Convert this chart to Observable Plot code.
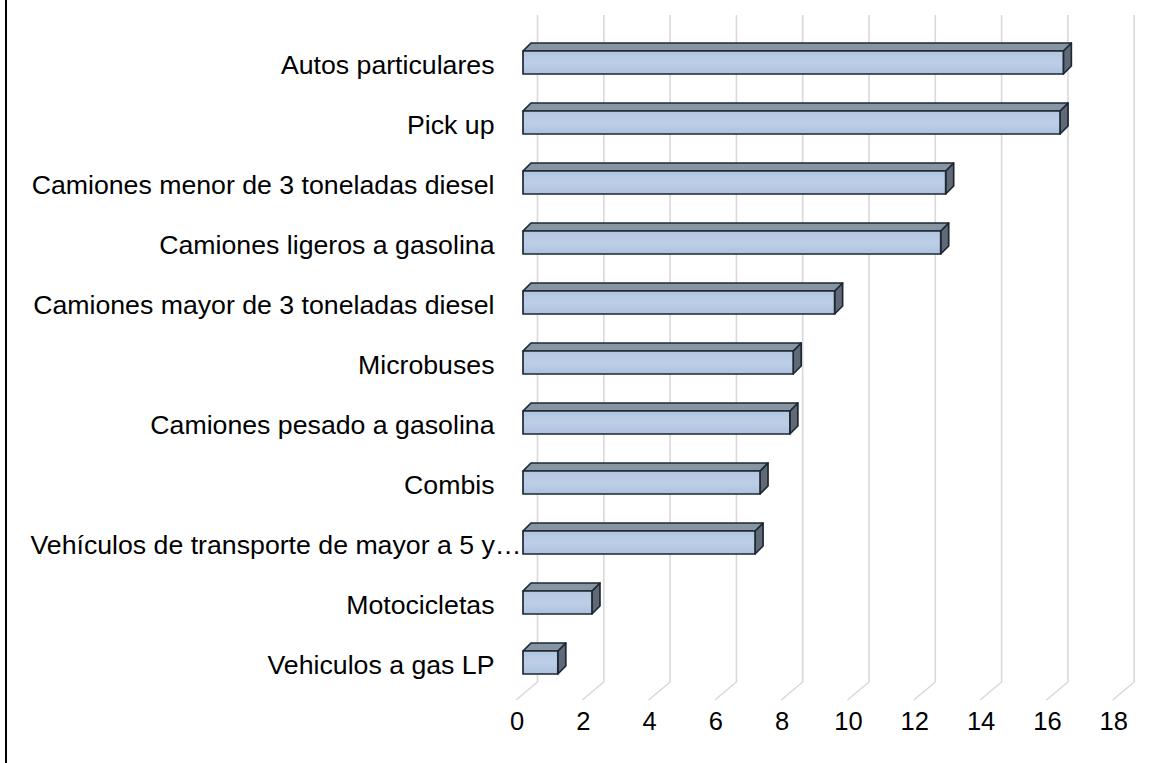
<!DOCTYPE html>
<html>
<head>
<meta charset="utf-8">
<script src="https://cdn.jsdelivr.net/npm/d3@7"></script>
<script src="https://cdn.jsdelivr.net/npm/@observablehq/plot@0.6"></script>
<style>
html, body { margin: 0; padding: 0; background: #fff; }
#wrap { position: relative; width: 1170px; height: 763px; overflow: hidden; background: #fff; }
#wrap svg { display: block; }
#wrap .border { position: absolute; left: 5px; top: 0; width: 2px; height: 763px; background: #000; z-index: 2; }
</style>
</head>
<body>
<div id="wrap"><div class="border"></div></div>
<script>
const categories = [
  "Autos particulares",
  "Pick up",
  "Camiones menor de 3 toneladas diesel",
  "Camiones ligeros a gasolina",
  "Camiones mayor de 3 toneladas diesel",
  "Microbuses",
  "Camiones pesado a gasolina",
  "Combis",
  "Vehículos de transporte de mayor a 5 y…",
  "Motocicletas",
  "Vehiculos a gas LP"
];
const values = [16.3, 16.2, 12.75, 12.6, 9.4, 8.15, 8.05, 7.15, 7.0, 2.08, 1.05];
const xTicks = [0, 2, 4, 6, 8, 10, 12, 14, 16, 18];
const truncatedLabel = "Vehículos de transporte de mayor a 5 y…";

const data = categories.map((c, i) => ({cat: c, value: values[i]}));

// 3D geometry (pixels)
const barDepthX = 8, barDepthY = -8;      // bar top/side depth
const wallDX = 14.5;                      // back wall offset from bar front plane
const floorFrontDX = -7;                  // floor front edge offset

function gridRender(index, scales, vals, dims) {
  const g = d3.create("svg:g")
    .attr("fill", "none")
    .attr("stroke", "#d9d9d9")
    .attr("stroke-width", 1.6);
  const yTop = dims.marginTop - 33;
  const yBack = dims.height - dims.marginBottom + 6;
  const yFront = yBack + 18;
  for (const i of index) {
    const x = vals.x[i];
    g.append("path")
      .attr("d", `M${x + wallDX},${yTop}L${x + wallDX},${yBack}L${x + floorFrontDX},${yFront}`);
  }
  return g.node();
}

function barRender(index, scales, vals) {
  const bw = typeof scales.y.bandwidth === "function" ? scales.y.bandwidth() : scales.scales.y.bandwidth;
  const g = d3.create("svg:g")
    .attr("stroke", "#1d2834")
    .attr("stroke-width", 1.7)
    .attr("stroke-linejoin", "round");
  const defs = g.append("defs");
  const fg = defs.append("linearGradient").attr("id", "frontGrad").attr("x1", 0).attr("y1", 0).attr("x2", 0).attr("y2", 1);
  fg.append("stop").attr("offset", "0%").attr("stop-color", "#b3c6df");
  fg.append("stop").attr("offset", "50%").attr("stop-color", "#bccfe7");
  fg.append("stop").attr("offset", "100%").attr("stop-color", "#adc2dd");
  for (const i of index) {
    const x1 = vals.x1[i], x2 = vals.x2[i], y = vals.y[i];
    // side face
    g.append("path").attr("fill", "#5f6a76")
      .attr("d", `M${x2},${y}L${x2 + barDepthX},${y + barDepthY}L${x2 + barDepthX},${y + bw + barDepthY}L${x2},${y + bw}Z`);
    // top face
    g.append("path").attr("fill", "#8794a2")
      .attr("d", `M${x1},${y}L${x1 + barDepthX},${y + barDepthY}L${x2 + barDepthX},${y + barDepthY}L${x2},${y}Z`);
    // front face
    g.append("rect").attr("fill", "url(#frontGrad)")
      .attr("x", Math.min(x1, x2)).attr("y", y)
      .attr("width", Math.abs(x2 - x1)).attr("height", bw);
  }
  return g.node();
}

const chart = Plot.plot({
  width: 1170,
  height: 763,
  marginLeft: 523,
  marginRight: 50.3,
  marginTop: 48,
  marginBottom: 87,
  style: {fontFamily: "'Liberation Sans', Arial, sans-serif", fontSize: "26px", color: "#000", background: "#fff"},
  x: {domain: [0, 18], axis: null},
  y: {type: "band", domain: categories, paddingInner: 0.62, paddingOuter: 0, axis: null},
  marks: [
    Plot.ruleX(xTicks, {x: d => d, render: gridRender}),
    Plot.barX(data, {x: "value", y: "cat", render: barRender}),
    Plot.text(categories.filter(c => c !== truncatedLabel), {
      y: d => d, text: d => d, frameAnchor: "left", textAnchor: "end", dx: -29, dy: 2,
      fontSize: 26.7, fill: "#000"
    }),
    Plot.text([truncatedLabel], {
      y: d => d, text: d => d, frameAnchor: "left", textAnchor: "end", dx: -2, dy: 2,
      fontSize: 26.7, fill: "#000"
    }),
    Plot.text(xTicks, {
      x: d => d, text: d => String(d), frameAnchor: "bottom", dx: -6.5, dy: 53,
      fontSize: 25.5, fill: "#000"
    })
  ]
});
document.getElementById("wrap").prepend(chart);
</script>
</body>
</html>
